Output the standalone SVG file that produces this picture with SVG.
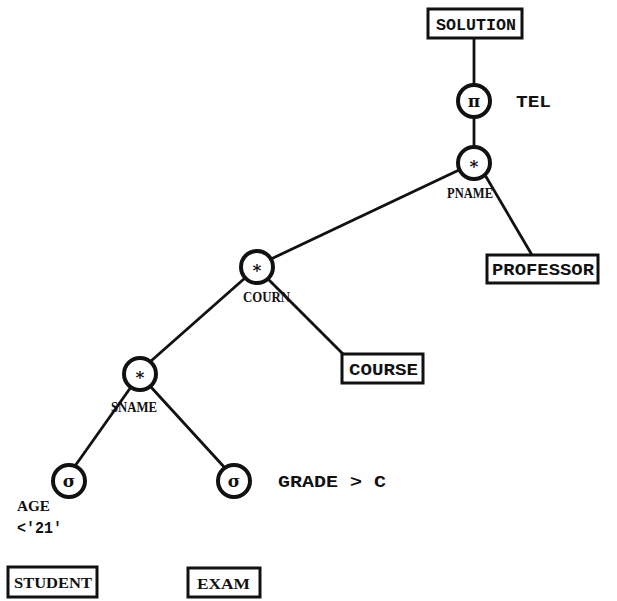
<svg xmlns="http://www.w3.org/2000/svg" width="617" height="601" viewBox="0 0 617 601">
<style>
text{font-family:"Liberation Mono","Courier New",monospace;font-weight:bold;font-size:17px;fill:#111}
.s{font-family:"Liberation Serif","Times New Roman",serif;font-size:14px}
.op{text-anchor:middle;font-family:"DejaVu Serif","Liberation Serif",serif;font-size:17px}
.box{fill:#fff;stroke:#111;stroke-width:3}
.c{fill:#fff;stroke:#111;stroke-width:4}
.e{stroke:#111;stroke-width:2.8;fill:none}
</style>
<rect width="617" height="601" fill="#fff"/>
<g id="connectors">
<line class="e" x1="474" y1="38" x2="474" y2="85"/>
<line class="e" x1="474" y1="117" x2="474" y2="147"/>
<line class="e" x1="459" y1="170" x2="271" y2="259"/>
<line class="e" x1="485" y1="175" x2="532" y2="255"/>
<line class="e" x1="267" y1="278" x2="343" y2="354"/>
<line class="e" x1="245" y1="278" x2="151" y2="361"/>
<line class="e" x1="131" y1="387" x2="75" y2="466"/>
<line class="e" x1="150" y1="386" x2="225" y2="468"/>
</g>
<g id="solution">
<rect class="box" x="428" y="9" width="94" height="29"/>
<text x="436" y="30" textLength="80" lengthAdjust="spacingAndGlyphs">SOLUTION</text>
</g>
<g id="pi">
<circle class="c" cx="474" cy="101" r="16"/>
<text class="op" x="474" y="107">π</text>
<text x="516" y="107" textLength="35" lengthAdjust="spacingAndGlyphs">TEL</text>
</g>
<g id="join-pname">
<circle class="c" cx="474" cy="163" r="16"/>
<text class="op" x="474" y="172">*</text>
<text class="s" x="447" y="198" textLength="46" lengthAdjust="spacingAndGlyphs">PNAME</text>
</g>
<g id="professor">
<rect class="box" x="487" y="255" width="111" height="28"/>
<text x="492" y="275" textLength="102" lengthAdjust="spacingAndGlyphs">PROFESSOR</text>
</g>
<g id="join-courn">
<circle class="c" cx="257" cy="267" r="16"/>
<text class="op" x="257" y="276">*</text>
<text class="s" x="243" y="302" textLength="47" lengthAdjust="spacingAndGlyphs">COURN</text>
</g>
<g id="course">
<rect class="box" x="342" y="354" width="81" height="29"/>
<text x="349" y="375" textLength="69" lengthAdjust="spacingAndGlyphs">COURSE</text>
</g>
<g id="join-sname">
<circle class="c" cx="140" cy="374" r="16"/>
<text class="op" x="140" y="383">*</text>
<text class="s" x="111" y="412" textLength="46" lengthAdjust="spacingAndGlyphs">SNAME</text>
</g>
<g id="select-age">
<circle class="c" cx="69" cy="481" r="16"/>
<text class="op" x="69" y="487">σ</text>
<text class="s" x="17" y="511" textLength="33" lengthAdjust="spacingAndGlyphs">AGE</text>
<text x="17" y="533" textLength="45" lengthAdjust="spacingAndGlyphs">&lt;'21'</text>
</g>
<g id="select-grade">
<circle class="c" cx="234" cy="481" r="16"/>
<text class="op" x="234" y="487">σ</text>
<text x="278" y="487" textLength="108" lengthAdjust="spacingAndGlyphs">GRADE &gt; C</text>
</g>
<g id="student">
<rect class="box" x="8" y="567" width="89" height="30"/>
<text class="s" x="14" y="588" font-size="15" textLength="78" lengthAdjust="spacingAndGlyphs">STUDENT</text>
</g>
<g id="exam">
<rect class="box" x="188" y="568" width="72" height="29"/>
<text class="s" x="197" y="589" font-size="15" textLength="53" lengthAdjust="spacingAndGlyphs">EXAM</text>
</g>
</svg>
